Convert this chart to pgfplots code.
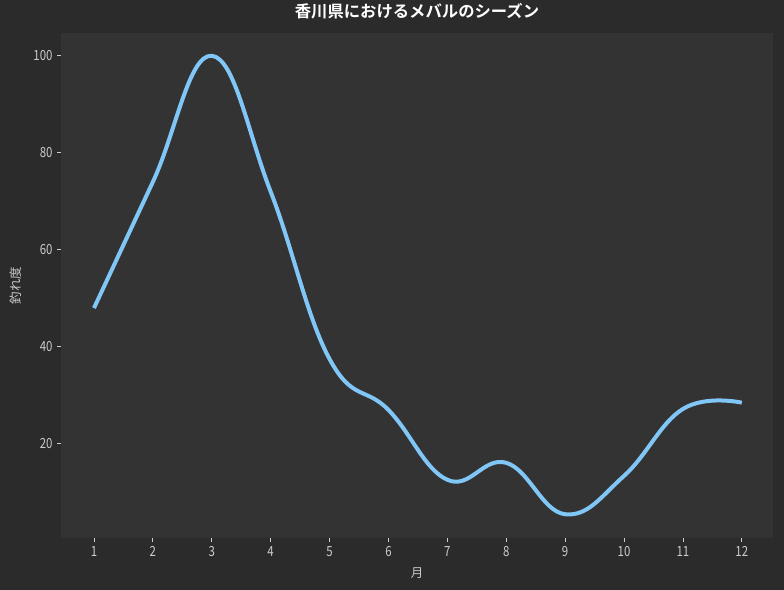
\documentclass[border=0pt]{standalone}
\usepackage{fontspec}
\setmainfont{Noto Sans CJK JP}
\newfontfamily\tickfont[FakeStretch=0.82]{Noto Sans CJK JP}
\newfontfamily\boldcjk{Noto Sans CJK JP Bold}
\usepackage{pgfplots}
\pgfplotsset{compat=1.18}
\definecolor{outerbg}{HTML}{2B2B2B}
\definecolor{innerbg}{HTML}{333333}
\definecolor{ticktxt}{HTML}{CCCCCC}
\definecolor{linecol}{HTML}{80C6F6}

\begin{document}
\begin{tikzpicture}
% page background
\fill[outerbg] (0,0) rectangle (784bp,590bp);
\useasboundingbox (0,0) rectangle (784bp,590bp);
\begin{axis}[
    at={(61bp,52bp)}, anchor=south west,
    scale only axis,
    width=712bp, height=505bp,
    xmin=0.44, xmax=12.53,
    ymin=0.6, ymax=104.7,
    axis line style={draw=none},
    axis background/.style={fill=innerbg},
    xtick={1,...,12},
    ytick={20,40,60,80,100},
    xtick pos=bottom, ytick pos=left,
    tick align=outside,
    major tick length=4bp,
    tick style={ticktxt, line width=0.8bp},
    every tick label/.append style={font=\tickfont\fontsize{14}{14}\selectfont, text=ticktxt},
    /pgf/number format/assume math mode=true,
    xticklabel style={yshift=-1bp},
    yticklabel style={xshift=-1bp},
    title={香川県におけるメバルのシーズン},
    title style={at={(0.5,1)}, anchor=center, yshift=16bp, font=\boldcjk\fontsize{16.4}{16.4}\selectfont, text=white},
    xlabel={月},
    ylabel={釣れ度},
    label style={font=\fontsize{12.5}{12.5}\selectfont, text=ticktxt},
    xlabel style={at={(axis description cs:0.5,-0.069)}, anchor=center},
    ylabel style={at={(axis description cs:-0.064,0.5)}, anchor=center},
    clip=false,
]
\addplot[linecol, line width=4bp, smooth, tension=0.7] coordinates {
(1,48) (2,74) (3,100) (4,72) (5,37.5) (6,27) (7,12.6) (8,16.1) (9,5.5) (10,13.4) (11,27.2) (12,28.5)
};
\end{axis}
\end{tikzpicture}
\end{document}
